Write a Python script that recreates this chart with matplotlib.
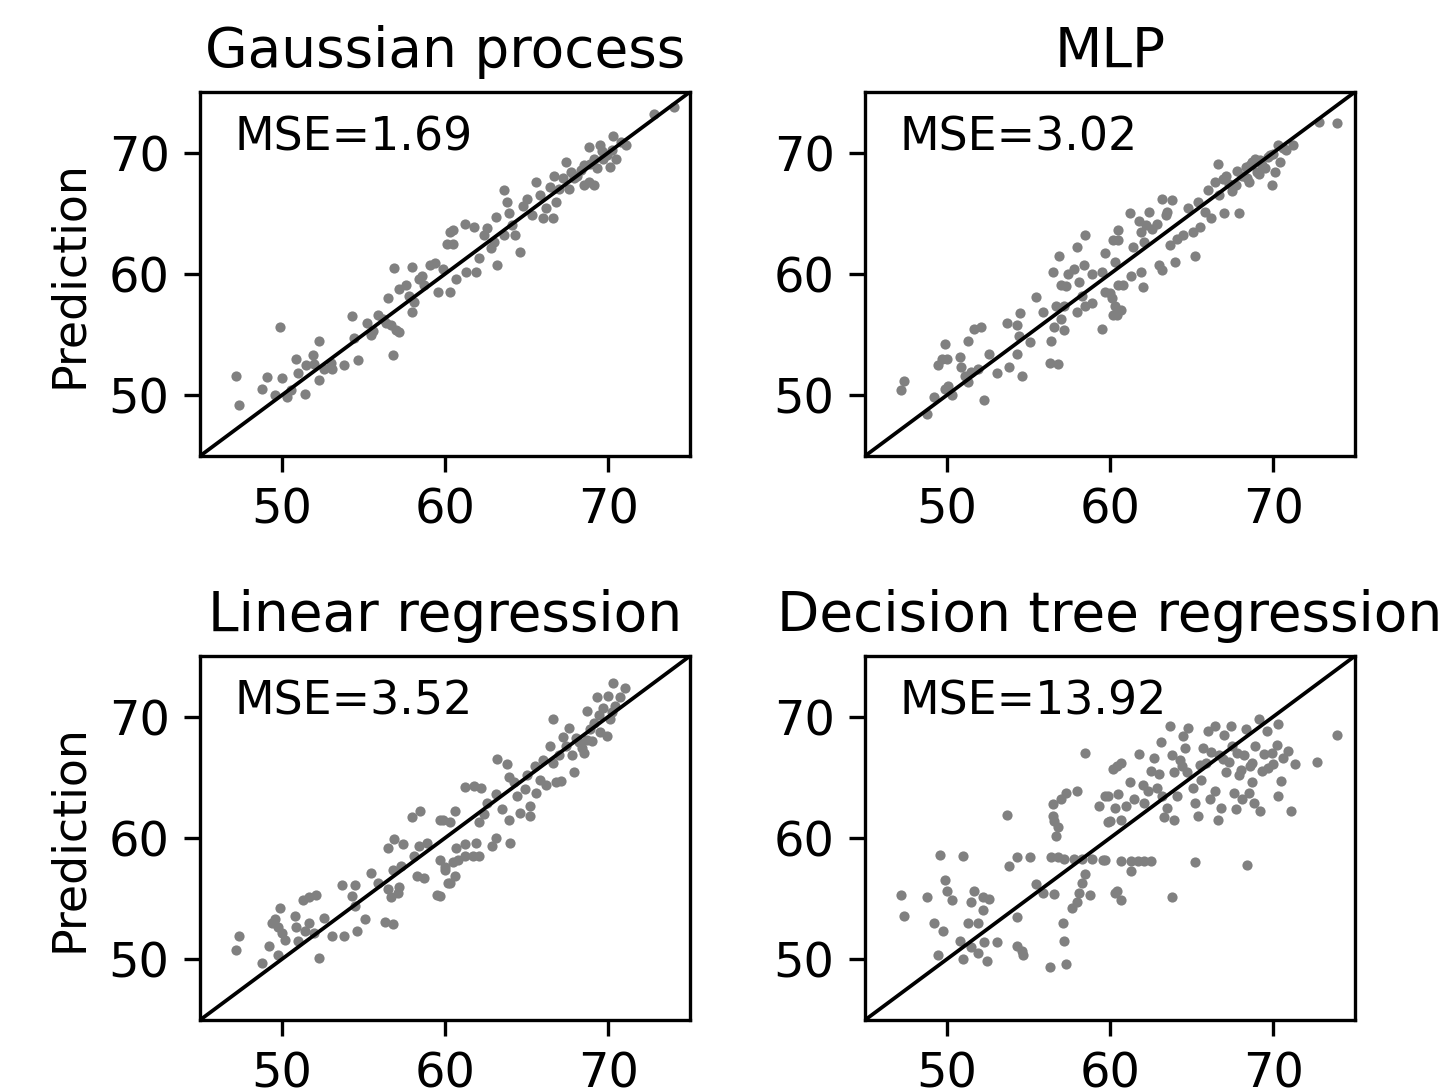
import matplotlib.pyplot as plt

titulos = ["Gaussian process", "MLP", "Linear regression", "Decision tree regression"]
mse = [1.69, 3.02, 3.52, 13.92]

gp_x = [47.2, 47.4, 49.9, 49.1, 48.8, 50.0, 49.6, 50.3, 51.4, 50.9, 51.5, 51.9, 52.3, 52.3,
        52.6, 53.1, 53.8, 54.7, 54.3, 54.4, 55.2, 55.6, 55.9, 56.4, 56.7, 57.0, 57.2, 56.8,
        56.5, 56.9, 57.2, 57.6, 58.0, 58.1, 58.0, 58.4, 58.7, 59.1, 59.4, 59.6, 60.1, 60.3,
        60.5, 60.5, 61.2, 61.8, 62.4, 62.8, 63.2, 63.6, 63.8, 63.9, 63.1, 64.6, 64.3, 63.6,
        64.1, 65.0, 65.6, 65.8, 66.2, 66.6, 66.0, 66.7, 67.0, 67.4, 67.7, 68.1, 68.5, 68.8,
        69.1, 68.8, 69.1, 69.5, 69.9, 70.1, 70.3, 70.5, 71.1, 72.8, 74.0, 68.5, 69.3, 69.7,
        67.9, 66.8, 59.9, 60.3, 60.7, 61.3, 61.9, 62.1, 50.6, 51.0, 52.0, 53.0, 55.5, 56.2,
        57.8, 58.6, 62.6, 63.0, 64.8, 65.3, 66.4, 67.2, 67.6, 68.3, 68.9, 69.6, 70.2, 70.8]
gp_y = [51.6, 49.2, 55.6, 51.5, 50.5, 51.4, 50.0, 49.9, 50.1, 53.0, 52.5, 53.3, 54.5, 51.3,
        52.2, 52.2, 52.5, 52.9, 56.5, 54.7, 56.0, 55.3, 56.6, 56.0, 55.8, 55.4, 55.2, 53.3,
        58.0, 60.5, 58.8, 59.1, 60.6, 57.7, 56.9, 59.6, 59.1, 60.7, 60.9, 58.5, 62.5, 63.5,
        63.6, 62.5, 64.1, 63.9, 63.2, 62.1, 60.7, 66.9, 65.9, 65.0, 64.7, 61.8, 63.2, 63.2,
        64.0, 66.2, 67.6, 66.5, 65.4, 64.6, 64.6, 68.1, 67.0, 69.2, 68.4, 68.1, 67.3, 67.6,
        67.3, 70.5, 69.5, 70.6, 69.8, 68.8, 71.4, 69.5, 70.6, 73.2, 73.8, 69.0, 68.7, 69.5,
        67.9, 65.9, 60.4, 58.5, 59.6, 60.2, 60.2, 61.3, 50.4, 51.8, 52.6, 52.7, 55.0, 56.3,
        58.2, 59.8, 63.8, 62.6, 65.6, 64.9, 67.2, 67.9, 67.0, 68.6, 69.1, 70.1, 70.2, 70.9]

mlp_x = [47.2, 47.4, 48.8, 49.2, 49.9, 50.1, 50.3, 49.5, 49.7, 50.0, 49.9, 50.8, 50.9, 51.1,
         51.3, 51.5, 51.9, 52.3, 52.6, 51.3, 51.7, 52.1, 53.1, 53.8, 53.7, 54.3, 54.4, 54.3,
         54.6, 54.5, 55.1, 55.5, 55.9, 56.3, 56.8, 56.4, 56.6, 57.2, 57.0, 56.7, 57.2, 56.5,
         56.9, 57.0, 57.3, 57.4, 57.8, 58.1, 58.0, 58.4, 58.5, 58.3, 58.0, 58.5, 58.9, 58.9,
         59.5, 59.7, 59.5, 59.7, 60.1, 60.2, 60.2,
         60.5, 60.5, 60.3, 60.0, 60.3, 60.4, 60.7, 60.5, 60.8, 61.2, 61.4, 61.3, 61.9, 62.0,
         61.8, 61.9, 62.4, 62.1, 62.6, 63.0, 63.2, 62.9, 63.2, 63.5, 63.8, 63.7, 64.0, 64.1,
         64.5, 64.8, 65.1, 65.2, 65.5, 65.4, 65.8, 66.2, 66.4, 66.6, 66.7, 67.0, 67.1, 67.5,
         67.9, 67.7, 68.1, 68.3, 68.5, 68.7, 69.0, 69.2, 69.5, 69.7, 69.9, 70.1, 70.3, 70.4,
         70.8, 71.2, 72.8, 73.9, 68.9, 69.3, 66.0, 66.9, 67.3, 67.8, 68.4, 68.6, 69.1, 69.8,
         70.0, 70.6, 62.2, 63.4]
mlp_y = [50.4, 51.2, 48.5, 49.9, 50.5, 50.8, 50.0, 52.5, 53.0, 53.0, 54.2, 53.2, 52.3, 51.6,
         51.1, 51.9, 52.2, 49.6, 53.4, 54.5, 55.5, 55.6, 51.8, 52.3, 56.0, 55.8, 54.9, 53.4,
         51.6, 56.8, 54.4, 58.1, 56.9, 52.7, 52.6, 54.5, 55.6, 55.4, 56.3, 57.4, 57.4, 60.2,
         61.5, 59.1, 59.0, 60.0, 60.4, 59.3, 62.2, 60.7, 63.2, 58.2, 56.9, 57.4, 57.6, 60.0,
         55.5, 61.7, 60.2, 58.5, 58.0, 56.6, 62.8,
         63.6, 62.8, 61.0, 58.4, 57.4, 56.6, 57.0, 59.1, 59.1, 65.0, 62.2, 59.8, 60.2, 58.9,
         64.4, 63.5, 65.1, 62.6, 63.7, 60.7, 60.3, 64.1, 66.2, 65.1, 66.1, 62.4, 61.0, 62.9,
         63.2, 65.4, 63.5, 61.5, 63.9, 65.9, 65.1, 64.6, 67.6, 69.1, 66.5, 65.0, 68.1, 66.8,
         65.0, 67.3, 68.1, 68.8, 67.6, 69.2, 68.4, 69.4, 68.7, 69.6, 67.3, 68.4, 70.6, 69.2,
         70.2, 70.6, 72.5, 72.4, 69.5, 69.0, 66.9, 67.8, 67.4, 68.5, 67.9, 69.0, 68.2, 69.8,
         69.9, 70.4, 64.0, 64.9]

lr_x = [47.2, 47.4, 48.8, 49.2, 49.8, 49.9, 49.4, 49.6, 49.8, 50.0, 50.2, 50.8, 50.9, 51.0,
        51.4, 51.7, 52.0, 52.3, 52.6, 51.3, 51.7, 52.1, 53.1, 53.8, 53.7, 54.5, 54.3, 54.5,
        54.6, 55.1, 55.5, 55.9, 56.3, 56.8, 56.5, 56.7, 57.1, 57.2, 56.8, 57.3, 56.5, 56.9,
        57.4, 58.1, 58.0, 58.5, 58.4, 58.3, 58.7, 58.9, 59.5, 59.7, 59.7, 60.0, 60.2,
        59.7, 60.3, 60.6, 60.0, 60.5, 60.8, 61.2, 61.7, 62.1, 60.7, 61.2, 61.9, 62.9, 63.1,
        64.0, 60.6, 60.3, 59.9, 61.2, 61.8, 62.2, 62.1, 62.4, 62.6, 63.1, 63.2, 63.8, 63.9,
        63.5, 63.9, 64.4, 64.6, 64.9, 65.2, 65.2, 65.6, 65.5, 65.8, 66.2, 66.4, 66.6, 66.8,
        66.6, 67.0, 67.1, 67.2, 67.6, 67.8, 67.9, 68.2, 68.5, 68.7, 68.7, 69.1, 69.3, 69.5,
        69.7, 69.9, 70.0, 70.1, 70.3, 70.4, 70.7, 71.0, 66.0, 67.4, 68.0, 68.9, 69.4, 70.2,
        69.0, 68.4, 64.2, 65.0]
lr_y = [50.8, 51.9, 49.7, 51.1, 50.4, 54.2, 53.0, 53.3, 52.7, 52.2, 51.6, 53.6, 52.7, 51.5,
        52.3, 53.0, 52.2, 50.1, 53.4, 54.9, 55.1, 55.3, 51.9, 51.9, 56.1, 56.1, 55.2, 54.4,
        52.3, 53.3, 57.1, 56.3, 53.1, 52.9, 55.8, 55.1, 55.5, 56.0, 57.4, 57.7, 59.2, 59.9,
        59.5, 58.5, 61.7, 62.2, 59.3, 56.9, 56.7, 59.6, 55.3, 61.5, 58.2, 57.6, 56.3,
        55.2, 56.3, 56.9, 57.4, 58.0, 58.2, 58.5, 58.5, 58.5, 59.2, 59.5, 59.6, 59.3, 60.0,
        59.6, 62.2, 61.3, 61.5, 64.2, 64.3, 64.1, 61.3, 62.0, 62.9, 63.6, 66.5, 66.1, 65.0,
        62.4, 61.5, 63.5, 62.1, 64.0, 61.8, 62.6, 63.7, 65.9, 64.8, 64.4, 67.6, 69.8, 64.6,
        66.2, 66.8, 64.7, 68.3, 69.1, 66.8, 65.4, 67.9, 67.0, 68.1, 70.5, 69.5, 71.6, 68.7,
        70.7, 68.4, 71.7, 69.8, 72.8, 70.9, 71.6, 72.4, 66.4, 67.6, 68.2, 69.0, 70.1, 70.4,
        68.0, 67.4, 64.6, 65.2]

dt_x = [47.2, 47.4, 48.8, 49.2, 49.6, 49.8, 49.5, 49.9, 50.0, 50.3, 51.0, 50.8, 51.0, 51.3,
        51.5, 51.7, 51.9, 51.5, 51.9, 52.2, 52.6, 52.2, 52.3, 52.5, 53.1, 53.7, 53.8, 54.3,
        55.1, 54.3, 54.3, 54.6, 54.7, 55.5, 55.9, 56.3, 57.3, 56.6, 56.4, 56.8, 57.2, 57.8,
        58.3, 58.9, 59.6, 57.1, 57.2, 57.7, 58.0, 58.1, 58.3, 58.5, 58.8, 56.5, 56.5, 56.6,
        56.8, 56.7, 57.0, 57.3, 58.0, 58.5, 59.3, 59.7, 59.9, 60.2, 60.3,
        59.7, 60.7, 61.3, 61.7, 62.1, 62.5, 61.3, 65.2, 68.4, 60.4, 60.7, 63.8,
        59.9, 60.0, 60.3, 60.5, 60.4, 60.7, 60.7, 61.0, 61.2, 61.5, 61.8, 62.0, 62.1, 62.5,
        62.7, 62.9, 63.1, 63.2, 63.3, 63.5, 63.7, 63.8, 63.9, 63.9, 64.1, 64.4, 64.5, 64.6,
        64.7, 64.8, 65.1, 65.2, 65.4, 65.6, 65.7, 65.9, 66.0, 66.1, 66.4, 66.4, 66.6, 66.7,
        66.8, 67.0, 67.1, 67.4, 67.5, 67.6, 67.7, 67.9, 68.1, 68.2, 68.3, 68.5, 68.7, 68.7,
        68.8, 68.9, 69.1, 69.2, 69.3, 69.6, 69.7, 69.9, 70.0, 70.2, 70.3, 70.3, 70.5, 70.9,
        71.1, 71.3, 72.7, 73.9, 65.5, 66.2, 66.9, 67.3, 67.8, 68.0, 68.6, 69.4, 70.6, 64.3,
        63.0, 62.3]
dt_y = [55.3, 53.6, 55.1, 53.0, 58.6, 52.3, 50.4, 56.5, 55.6, 54.9, 58.5, 51.5, 50.0, 53.0,
        54.7, 55.6, 53.0, 51.0, 50.5, 55.1, 55.0, 54.1, 51.4, 49.9, 51.4, 61.9, 57.7, 58.4,
        58.4, 53.5, 51.1, 50.7, 50.4, 56.2, 55.5, 49.4, 49.6, 55.4, 58.4, 58.4, 58.3, 58.3,
        58.3, 58.3, 58.2, 53.0, 51.5, 54.2, 54.7, 55.5, 56.3, 57.0, 55.3, 62.8, 61.8, 61.4,
        60.9, 60.2, 63.2, 63.7, 63.9, 67.0, 62.6, 63.5, 61.3, 65.7, 55.5,
        58.2, 58.1, 58.1, 58.1, 58.1, 58.1, 57.3, 58.0, 57.8, 55.6, 54.9, 55.1,
        63.5, 61.4, 62.5, 63.6, 65.9, 66.2, 61.5, 62.6, 64.6, 63.2, 66.9, 64.4, 62.9, 65.5,
        66.6, 64.1, 67.9, 63.5, 61.7, 62.5, 69.2, 66.8, 65.4, 61.5, 63.5, 65.9, 68.4, 67.4,
        65.4, 69.1, 64.1, 62.9, 61.8, 64.8, 67.4, 66.2, 68.8, 63.2, 63.9, 69.2, 61.5, 66.8,
        62.5, 68.5, 65.4, 69.2, 67.6, 63.7, 62.4, 65.2, 63.2, 66.8, 69.0, 63.7, 66.2, 64.6,
        62.9, 67.6, 69.8, 62.2, 65.5, 68.8, 65.8, 67.0, 66.1, 67.7, 69.4, 63.5, 64.7, 67.2,
        62.2, 66.1, 66.3, 68.5, 66.0, 67.1, 66.5, 66.3, 67.0, 65.6, 65.9, 66.9, 66.6, 66.4,
        65.3, 63.9]

dados = [(gp_x, gp_y), (mlp_x, mlp_y), (lr_x, lr_y), (dt_x, dt_y)]

fig = plt.figure(figsize=(1445 / 300, 1092 / 300), dpi=300)
posicoes = [
    [0.1384, 0.5824, 0.3391, 0.3334],
    [0.5986, 0.5824, 0.3391, 0.3334],
    [0.1384, 0.0659, 0.3391, 0.3334],
    [0.5986, 0.0659, 0.3391, 0.3334],
]

for i, (x, y) in enumerate(dados):
    ax = fig.add_axes(posicoes[i])
    ax.scatter(x, y, s=6, color="gray", linewidths=0)
    ax.plot([45, 75], [45, 75], color="k", linewidth=0.9)
    ax.set_xlim(45, 75)
    ax.set_ylim(45, 75)
    ax.set_xticks([50, 60, 70])
    ax.set_yticks([50, 60, 70])
    ax.tick_params(labelsize=11.5, length=3.8)
    ax.set_title(titulos[i], fontsize=13.2)
    ax.text(0.07, 0.935, f"MSE={mse[i]:.2f}", transform=ax.transAxes,
            ha="left", va="top", fontsize=11)
    if i % 2 == 0:
        ax.set_ylabel("Prediction", fontsize=11)

fig.savefig("out.png", dpi=300)
